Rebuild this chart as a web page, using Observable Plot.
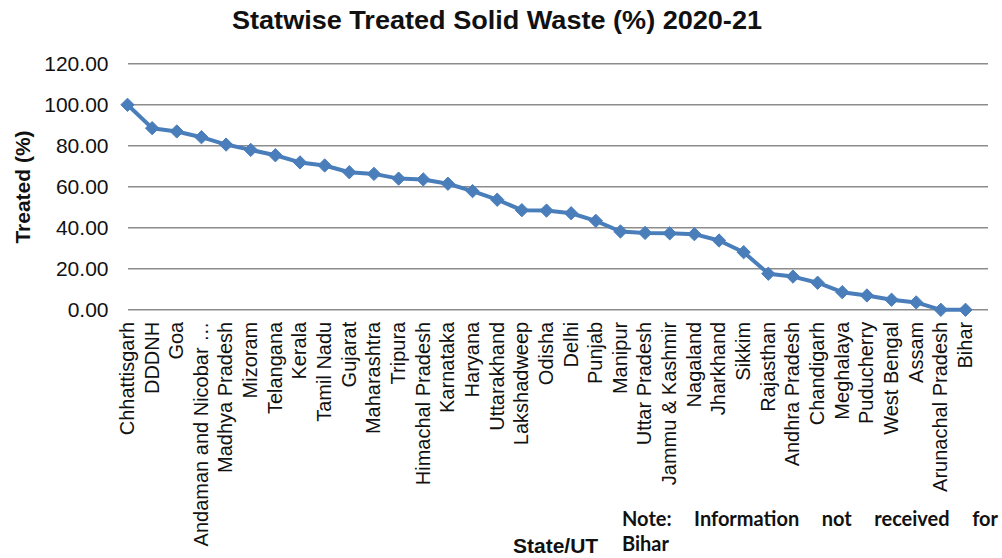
<!DOCTYPE html>
<html>
<head>
<meta charset="utf-8">
<script src="https://cdn.jsdelivr.net/npm/d3@7"></script>
<script src="https://cdn.jsdelivr.net/npm/@observablehq/plot@0.6"></script>
<style>
  body { margin: 0; background: #fff; }
  #wrap { position: relative; width: 1002px; height: 558px; overflow: hidden;
          font-family: "Liberation Sans", Arial, sans-serif; color: #111; }
  #chart { position: absolute; left: 0; top: 0; }
  #title { position: absolute; left: 497px; top: 5px; white-space: nowrap;
           font-family: "Liberation Sans", Arial, sans-serif;
           font-weight: bold; font-size: 25px; line-height: 30px;
           transform-origin: 0 0; }
  #ylab { position: absolute; left: 23px; top: 187px; font-weight: bold; font-size: 21px;
          transform: translate(-50%, -50%) rotate(-90deg); white-space: nowrap; }
  #xlab { position: absolute; left: 513px; top: 534px; font-weight: bold; font-size: 21px;
          line-height: 24px; white-space: nowrap; }
  #note { position: absolute; left: 622px; top: 506px; width: 376px;
          font-family: Lato, "Open Sans", sans-serif; font-weight: bold; font-size: 20px; line-height: 25px; }
  #note .l1 { text-align: justify; text-align-last: justify; white-space: nowrap; }
</style>
</head>
<body>
<div id="wrap">
  <div id="title">Statwise Treated Solid Waste (%) 2020-21</div>
  <div id="chart"></div>
  <div id="ylab">Treated (%)</div>
  <div id="xlab">State/UT</div>
  <div id="note"><div class="l1">Note: Information not received for</div><div>Bihar</div></div>
</div>
<script>
// States and UTs, ordered by share of solid waste treated
const states = [
  "Chhattisgarh", "DDDNH", "Goa", "Andaman and Nicobar …", "Madhya Pradesh",
  "Mizoram", "Telangana", "Kerala", "Tamil Nadu", "Gujarat", "Maharashtra",
  "Tripura", "Himachal Pradesh", "Karnataka", "Haryana", "Uttarakhand",
  "Lakshadweep", "Odisha", "Delhi", "Punjab", "Manipur", "Uttar Pradesh",
  "Jammu & Kashmir", "Nagaland", "Jharkhand", "Sikkim", "Rajasthan",
  "Andhra Pradesh", "Chandigarh", "Meghalaya", "Puducherry", "West Bengal",
  "Assam", "Arunachal Pradesh", "Bihar"
];

// Treated solid waste, percent
const treated = [
  100.0, 88.6, 87.0, 84.2, 80.6,
  78.0, 75.4, 71.9, 70.4, 67.1, 66.3,
  64.0, 63.6, 61.5, 57.9, 53.7,
  48.6, 48.4, 47.1, 43.4, 38.2, 37.5,
  37.3, 36.9, 33.8, 28.1, 17.6,
  16.2, 13.2, 8.6, 7.0, 4.9,
  3.6, 0.0, 0.0
];

const yTicks = [0, 20, 40, 60, 80, 100, 120];

// One row per state; position along x is the state's rank
const data = states.map((state, i) => ({ rank: i, state, treated: treated[i] }));

const blue = "#4a7ebb";

const chart = Plot.plot({
  width: 1002,
  height: 558,
  marginLeft: 128,
  marginRight: 14,
  marginTop: 63.3,
  marginBottom: 248.7,
  style: { fontFamily: "'Liberation Sans', Arial, sans-serif", fontSize: "20px", color: "#111", background: "transparent" },
  // first state on the left edge of the plot area, last one a step short of the right edge
  x: { type: "linear", domain: [0, states.length - 1], insetLeft: -1, insetRight: 23 },
  y: { domain: [0, 120] },
  marks: [
    Plot.ruleY(yTicks, { stroke: "#8c8c8c", strokeWidth: 1.5 }),
    Plot.axisY({ ticks: yTicks, tickSize: 0, tickPadding: 20, tickFormat: d => d.toFixed(2), label: null, fontSize: 21 }),
    Plot.axisX({ ticks: d3.range(states.length), tickFormat: i => states[i], tickSize: 0, tickRotate: -90, tickPadding: 12, label: null, fontSize: 20 }),
    Plot.line(data, { x: "rank", y: "treated", stroke: blue, strokeWidth: 4, strokeLinejoin: "round" }),
    Plot.dot(data, { x: "rank", y: "treated", symbol: "diamond2", r: 6, fill: blue, stroke: blue, strokeWidth: 1 })
  ]
});

document.getElementById("chart").appendChild(chart);

// Condensed title, centred over the chart
const title = document.getElementById("title");
const tw = title.getBoundingClientRect().width;
const sx = 530 / tw;
title.style.transform = `scaleX(${sx}) translateX(-50%)`;
</script>
</body>
</html>
